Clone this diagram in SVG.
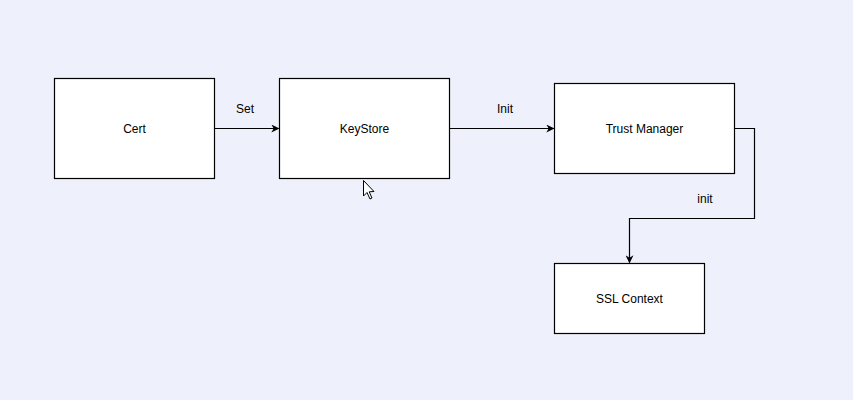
<svg xmlns="http://www.w3.org/2000/svg" width="853" height="400" viewBox="0 0 853 400">
<style>
.box{fill:#ffffff;stroke:#000000;stroke-width:1.2}
.lbl{font-family:"Liberation Sans",Arial,sans-serif;font-size:12px;fill:#000000;text-anchor:middle;dominant-baseline:central}
.edge{fill:none;stroke:#000000;stroke-width:1.2}
</style>
<defs>
<marker id="arr" viewBox="0 0 10 10" refX="9" refY="5" markerWidth="8" markerHeight="8" markerUnits="userSpaceOnUse" orient="auto">
<path d="M0,0 L10,5 L0,10 L3,5 Z" fill="#000000"/>
</marker>
</defs>
<rect width="853" height="400" fill="#EEF1FB"/>
<g id="cert"><rect class="box" x="54.5" y="78.5" width="160" height="100"/><text class="lbl" x="134.5" y="128.5">Cert</text></g>
<g id="keystore"><rect class="box" x="279.5" y="78.5" width="170" height="100"/><text class="lbl" x="364.5" y="128.5">KeyStore</text></g>
<g id="trustmanager"><rect class="box" x="554.5" y="83.5" width="180" height="90"/><text class="lbl" x="644.5" y="128.5">Trust Manager</text></g>
<g id="sslcontext"><rect class="box" x="554.5" y="263.5" width="150" height="70"/><text class="lbl" x="629.5" y="298.5">SSL Context</text></g>
<g id="connectors">
<path class="edge" d="M214.5,128.5 L278.5,128.5" marker-end="url(#arr)"/>
<text class="lbl" x="245" y="109">Set</text>
<path class="edge" d="M449.5,128.5 L553.5,128.5" marker-end="url(#arr)"/>
<text class="lbl" x="505" y="109">Init</text>
<path class="edge" d="M734.5,128.5 L754.5,128.5 L754.5,218.5 L629.5,218.5 L629.5,262.5" marker-end="url(#arr)"/>
<text class="lbl" x="705" y="199">init</text>
</g>
<path d="M363.5,180.5 L363.5,196 L367,192.5 L370,199 L372,198 L369.2,191.8 L374,191.5 Z" fill="#ffffff" stroke="#000000" stroke-width="1"/>
</svg>
